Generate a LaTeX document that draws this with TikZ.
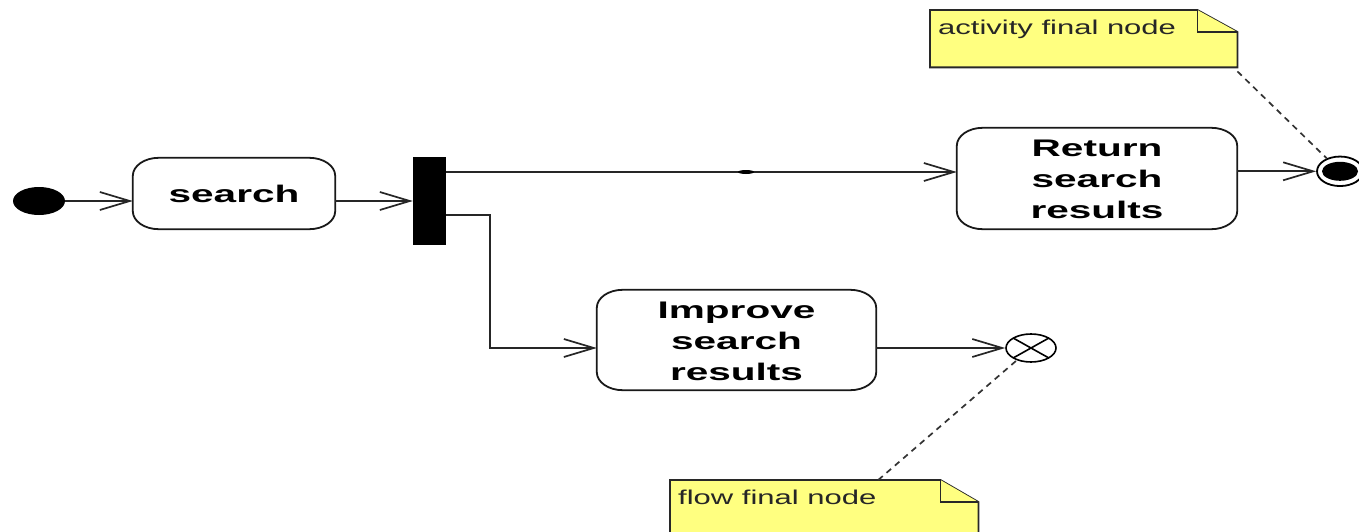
\documentclass[tikz,border=0pt]{standalone}
\usepackage{fontspec}
\setmainfont{Liberation Sans}
\usetikzlibrary{arrows.meta,shapes.geometric}

\definecolor{notefill}{RGB}{255,255,128}
\definecolor{noteline}{RGB}{40,40,40}

% horizontally widened, centred multi-line label, set slightly low in its box
\newcommand\acttext[1]{\raisebox{-3pt}[\height][\depth]{\scalebox{1.69}[1]{\begin{tabular}{@{}c@{}}#1\end{tabular}}}}
\newcommand\notetext[1]{\scalebox{1.55}[1]{#1}}

% action outline with elliptical corners
\newcommand\actoutline[1]{%
  \draw[boxline] ([xshift=26pt]#1.north west) -- ([xshift=-26pt]#1.north east)
    arc[start angle=90,end angle=0,x radius=26pt,y radius=18pt]
    -- ([yshift=18pt]#1.south east)
    arc[start angle=0,end angle=-90,x radius=26pt,y radius=18pt]
    -- ([xshift=26pt]#1.south west)
    arc[start angle=-90,end angle=-180,x radius=26pt,y radius=18pt]
    -- ([yshift=-18pt]#1.north west)
    arc[start angle=180,end angle=90,x radius=26pt,y radius=18pt] -- cycle;}

% note with a folded top-right corner
\newcommand\noteoutline[3]{%
  \filldraw[noteframe] (#1.north west) -- ([xshift=-#2]#1.north east)
    -- ([yshift=-#3]#1.north east) -- (#1.south east) -- (#1.south west) -- cycle;
  \draw[noteframe] ([xshift=-#2]#1.north east) |- ([yshift=-#3]#1.north east);}

\tikzset{
  boxline/.style={line width=1.8pt, black!90},
  act/.style={inner sep=0pt, font=\fontsize{24}{31}\selectfont\bfseries},
  flow/.style={line width=1.7pt, black!85, -{Straight Barb[length=30pt,width=18pt]}},
  notebox/.style={inner sep=0pt, anchor=north west},
  noteframe/.style={line width=1.8pt, draw=noteline, fill=notefill},
  notelabel/.style={inner sep=0pt, anchor=base west, font=\fontsize{20}{24}\selectfont, text=black!85},
  anchorline/.style={line width=1.7pt, dash pattern=on 6pt off 5pt, black!80},
}

\begin{document}
\begin{tikzpicture}[x=1pt,y=-1pt]
  \fill[white] (0,0) rectangle (1359,532);
  \clip (0,0) rectangle (1359,532);

  % nodes
  \node[ellipse, fill=black, inner sep=0pt, minimum width=52pt, minimum height=28pt] (init) at (39,201) {};
  \node[act, minimum width=202pt, minimum height=71pt] (search) at (234,193.5) {\acttext{search}};
  \node[fill=black, inner sep=0pt, minimum width=33pt, minimum height=88pt] (bar) at (429.5,201) {};
  \node[act, minimum width=280pt, minimum height=101pt] (ret) at (1097,178.5) {\acttext{Return\\search\\results}};
  \node[act, minimum width=279pt, minimum height=100pt] (imp) at (736.5,340) {\acttext{Improve\\search\\results}};
  \node[ellipse, draw, line width=1.8pt, inner sep=0pt, minimum width=46pt, minimum height=29.5pt] (fin) at (1340,171.3) {};
  \node[ellipse, draw, line width=1.6pt, inner sep=0pt, minimum width=50pt, minimum height=28pt] (ff) at (1031,348) {};

  \actoutline{search}
  \actoutline{ret}
  \actoutline{imp}

  % activity final: filled core
  \fill (fin.center) ellipse [x radius=18pt, y radius=9.5pt];
  % flow final: cross
  \draw[line width=1.6pt] ([shift={(-17.7pt,9.9pt)}]ff.center) -- ([shift={(17.7pt,-9.9pt)}]ff.center);
  \draw[line width=1.6pt] ([shift={(-17.7pt,-9.9pt)}]ff.center) -- ([shift={(17.7pt,9.9pt)}]ff.center);

  % notes
  \node[notebox, minimum width=307pt, minimum height=57pt] (n1) at (930,10) {};
  \noteoutline{n1}{40pt}{22pt}
  \node[notelabel] (n1t) at ([xshift=8pt,yshift=-25pt]n1.north west) {\notetext{activity final node}};

  \node[notebox, minimum width=308pt, minimum height=75pt] (n2) at (670,480) {};
  \noteoutline{n2}{38pt}{22pt}
  \node[notelabel] (n2t) at ([xshift=8pt,yshift=-24pt]n2.north west) {\notetext{flow final node}};

  % control flows
  \coordinate (upper) at ([yshift=29pt]bar.east);
  \coordinate (lower) at ([yshift=-14pt]bar.east);
  \coordinate (elbow) at (490,348);

  \draw[flow] (init.east) -- (init.east -| search.west);
  \draw[flow] (search.east |- bar) -- (bar.west);
  \draw[flow] (upper) -- (upper -| ret.west);
  \draw[flow] (lower) -| (elbow) -- (imp.west |- elbow);
  \draw[flow] (ret.east |- fin) -- (fin.west);
  \draw[flow] (imp.east |- ff) -- (ff.west);

  % small mark on the upper flow
  \fill (746,172) ellipse [x radius=8pt, y radius=2pt];

  % note anchors
  \draw[anchorline] ([yshift=-4pt]n1.south east) -- (fin);
  \draw[anchorline] ([xshift=54pt]n2.north) -- (ff);
\end{tikzpicture}
\end{document}
